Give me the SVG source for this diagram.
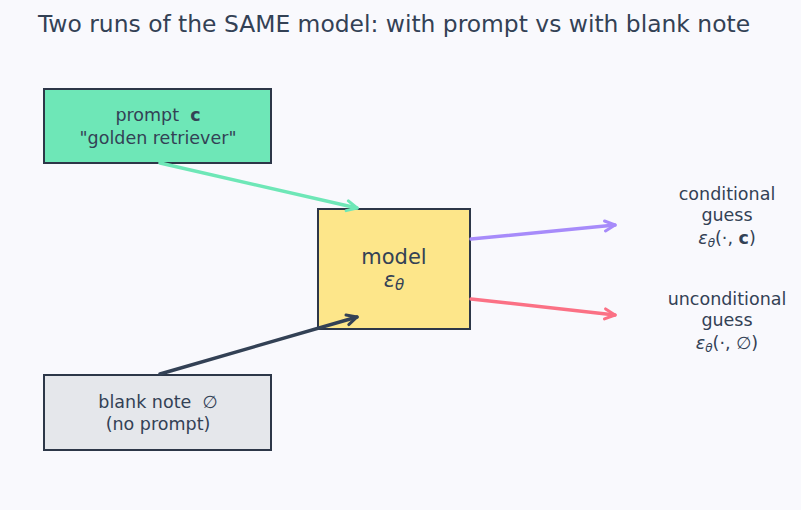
<svg xmlns="http://www.w3.org/2000/svg" width="801" height="510" viewBox="0 0 801 510">
<style>
text{font-family:"DejaVu Sans","Liberation Sans",sans-serif;fill:#334155;text-anchor:middle;white-space:pre}
.box{stroke:#2d3748;stroke-width:2}
.it{font-style:italic}
.b{font-weight:bold}
.lbl{font-size:17.5px}
</style>
<defs>
<marker id="hg" markerUnits="userSpaceOnUse" markerWidth="14" markerHeight="14" refX="12" refY="7" orient="auto" viewBox="0 0 14 14"><path d="M2,2 L12,7 L2,12" fill="none" stroke="#6ee7b7" stroke-width="3" stroke-linecap="round" stroke-linejoin="round"/></marker>
<marker id="hd" markerUnits="userSpaceOnUse" markerWidth="14" markerHeight="14" refX="12" refY="7" orient="auto" viewBox="0 0 14 14"><path d="M2,2 L12,7 L2,12" fill="none" stroke="#334155" stroke-width="3" stroke-linecap="round" stroke-linejoin="round"/></marker>
<marker id="hp" markerUnits="userSpaceOnUse" markerWidth="14" markerHeight="14" refX="12" refY="7" orient="auto" viewBox="0 0 14 14"><path d="M2,2 L12,7 L2,12" fill="none" stroke="#a78bfa" stroke-width="3" stroke-linecap="round" stroke-linejoin="round"/></marker>
<marker id="hr" markerUnits="userSpaceOnUse" markerWidth="14" markerHeight="14" refX="12" refY="7" orient="auto" viewBox="0 0 14 14"><path d="M2,2 L12,7 L2,12" fill="none" stroke="#fb7185" stroke-width="3" stroke-linecap="round" stroke-linejoin="round"/></marker>
</defs>
<rect width="801" height="510" fill="#f9f9fd"/>
<text x="394" y="32" font-size="23.4">Two runs of the SAME model: with prompt vs with blank note</text>
<g id="prompt">
<rect class="box" x="44" y="89" width="227" height="74" fill="#6ee7b7"/>
<text x="158" y="121" class="lbl">prompt  <tspan class="b">c</tspan></text>
<text x="158" y="144" class="lbl">"golden retriever"</text>
</g>
<g id="model">
<rect class="box" x="318" y="209" width="152" height="120" fill="#fde68a"/>
<text x="394" y="264" font-size="21">model</text>
<text x="394" y="287" font-size="21"><tspan class="it">ε</tspan><tspan class="it" font-size="15" dy="3">θ</tspan></text>
</g>
<g id="blank">
<rect class="box" x="44" y="375" width="227" height="75" fill="#e5e7eb"/>
<text x="158" y="408" class="lbl">blank note  ∅</text>
<text x="158" y="430" class="lbl">(no prompt)</text>
</g>
<g id="cond">
<text x="727" y="200" class="lbl">conditional</text>
<text x="727" y="221" class="lbl">guess</text>
<text x="727" y="244" class="lbl"><tspan class="it">ε</tspan><tspan class="it" font-size="12" dy="3">θ</tspan><tspan dy="-3">(·, </tspan><tspan class="b">c</tspan>)</text>
</g>
<g id="uncond">
<text x="727" y="305" class="lbl">unconditional</text>
<text x="727" y="326" class="lbl">guess</text>
<text x="727" y="349" class="lbl"><tspan class="it">ε</tspan><tspan class="it" font-size="12" dy="3">θ</tspan><tspan dy="-3">(·, ∅)</tspan></text>
</g>
<g id="connectors" fill="none" stroke-width="3.5" stroke-linecap="round">
<line x1="160" y1="163" x2="357" y2="208" stroke="#6ee7b7" marker-end="url(#hg)"/>
<line x1="160" y1="374" x2="357" y2="317" stroke="#334155" marker-end="url(#hd)"/>
<line x1="471" y1="239" x2="615" y2="225" stroke="#a78bfa" marker-end="url(#hp)"/>
<line x1="471" y1="299" x2="615" y2="315" stroke="#fb7185" marker-end="url(#hr)"/>
</g>
</svg>
